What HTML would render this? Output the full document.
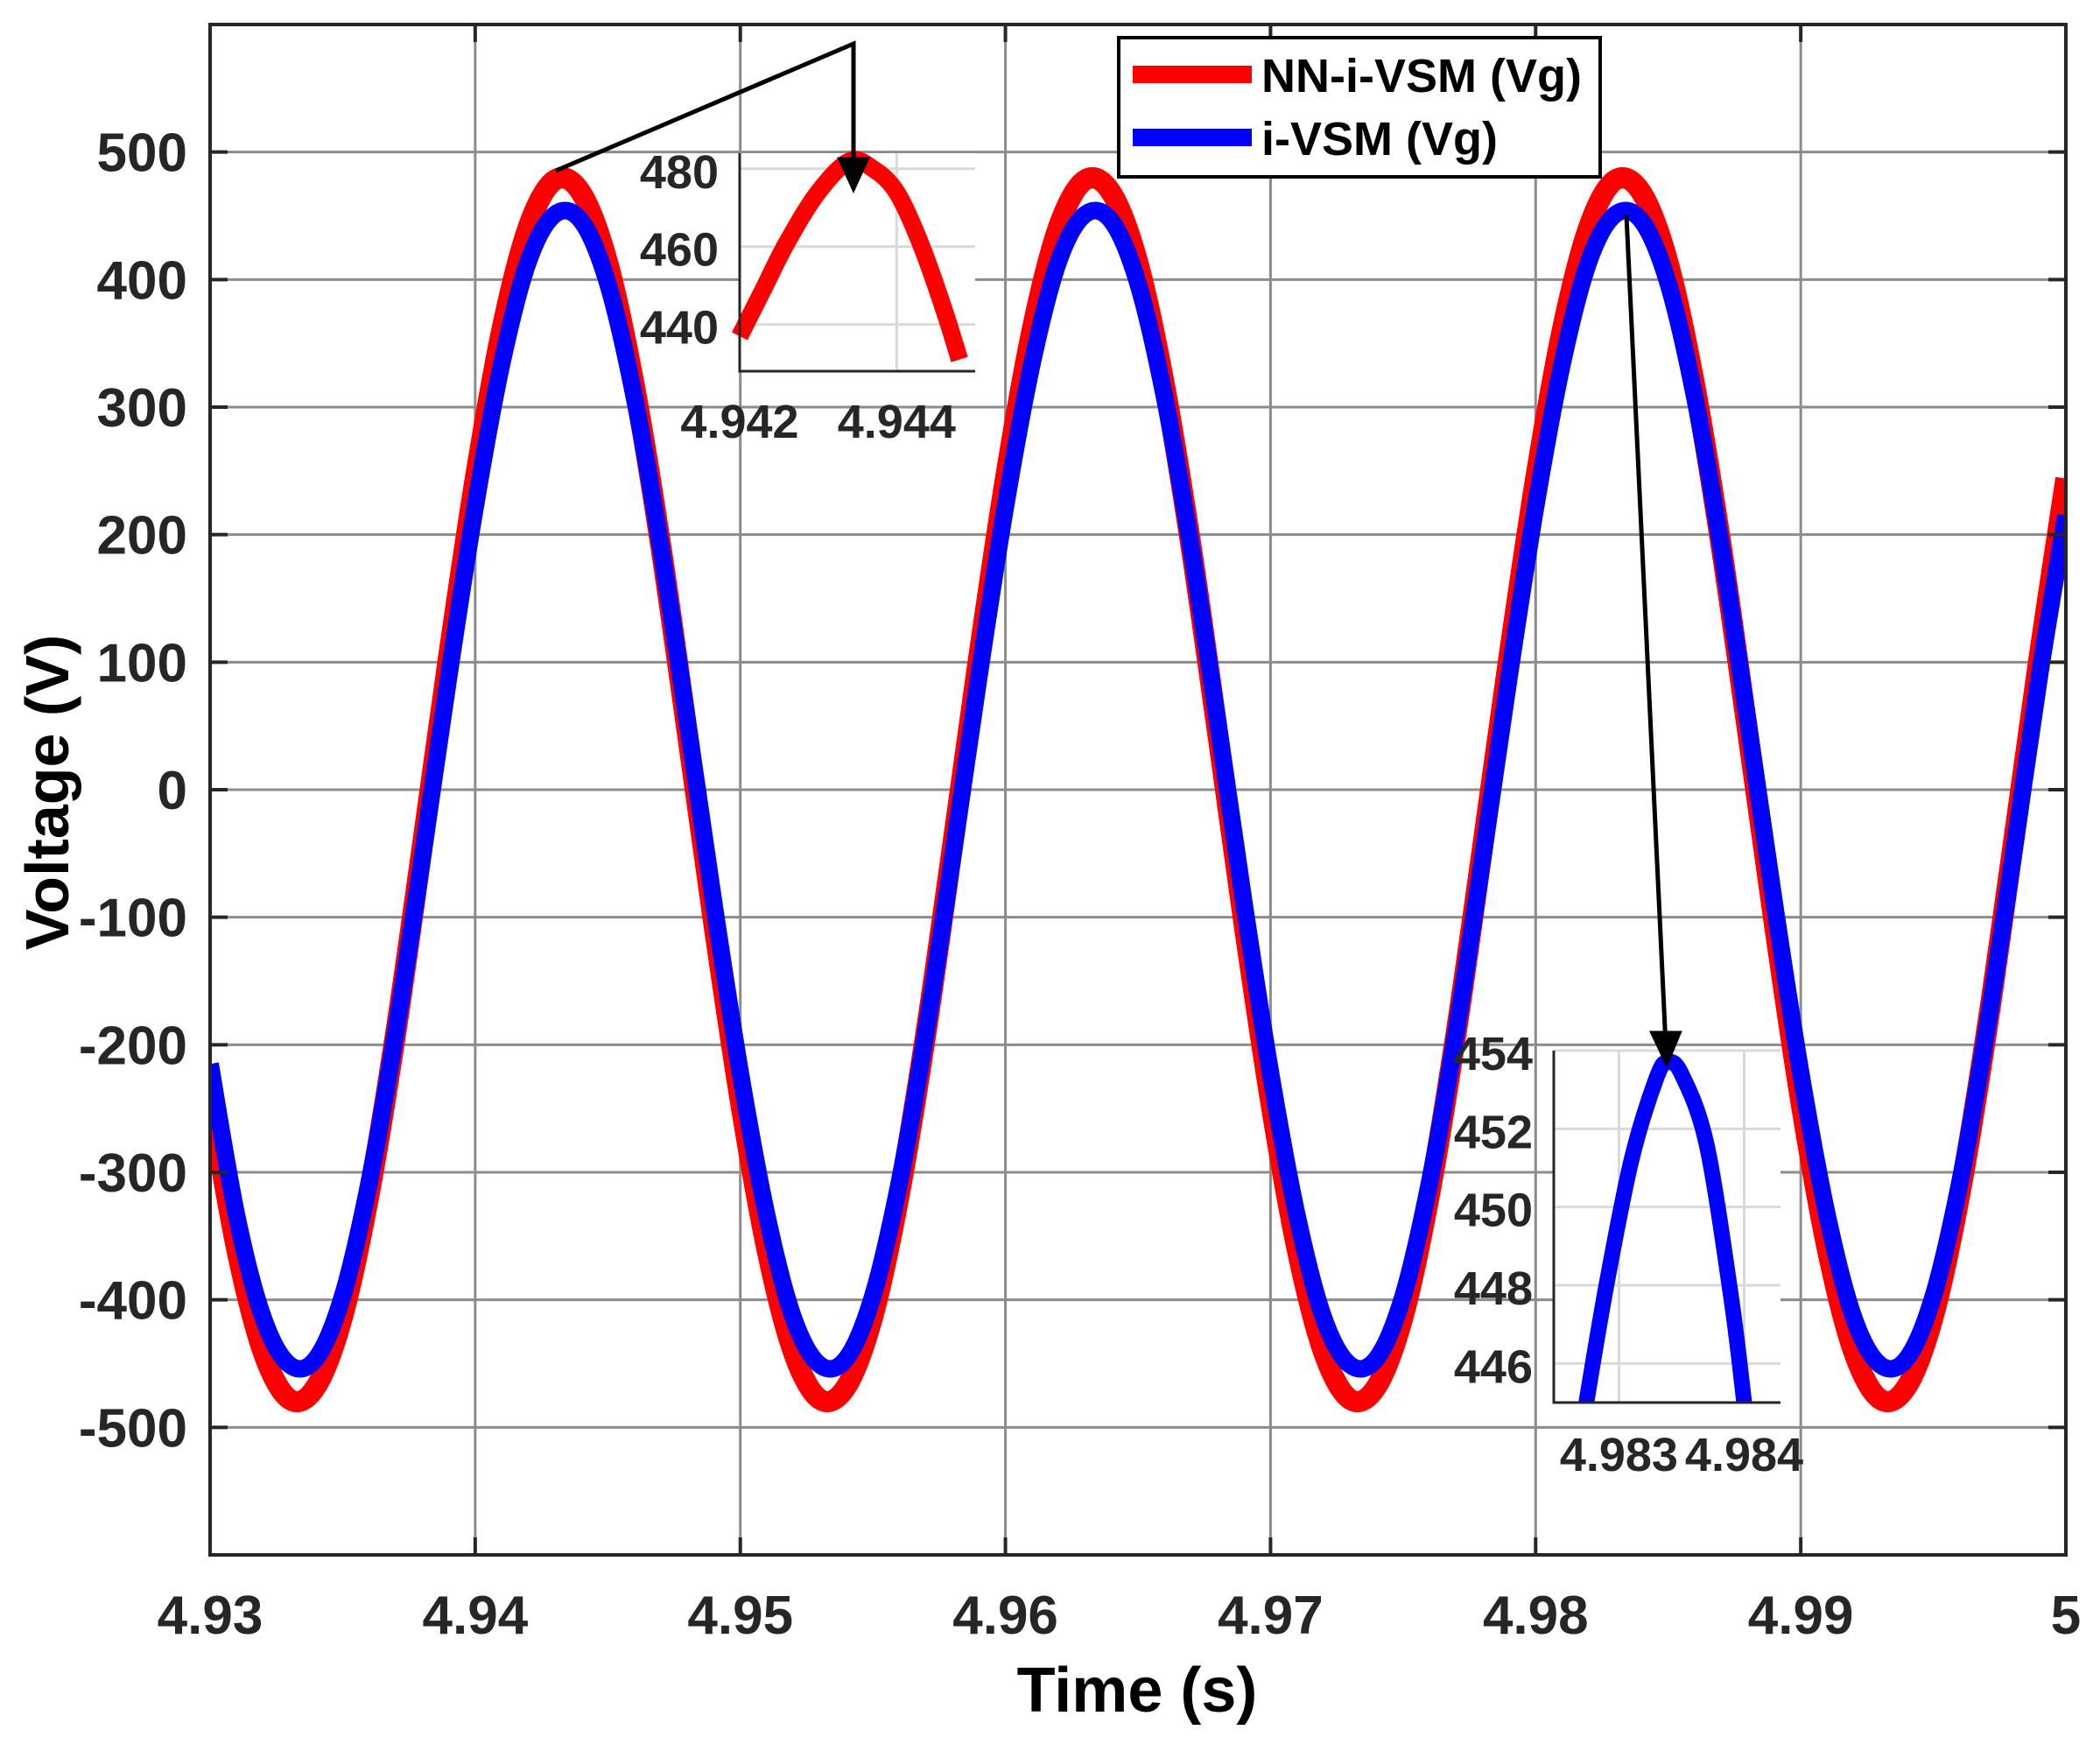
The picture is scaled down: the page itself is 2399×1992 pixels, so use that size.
<!DOCTYPE html>
<html><head><meta charset="utf-8"><style>
html,body{margin:0;padding:0;background:#fff;}
svg{display:block;font-family:"Liberation Sans",Arial,sans-serif;font-weight:bold;}
</style></head><body>
<svg id="chart" width="2399" height="1992" viewBox="0 0 2399 1992" xmlns="http://www.w3.org/2000/svg">
<g id="grid"></g>
<g id="series"></g>
<g id="axes"></g>
<g id="inset1"></g>
<g id="inset2"></g>
<g stroke="#000" stroke-width="5" fill="none">
  <polyline points="635,195 975,50 975,200"/>
  <polygon points="960,182 990,182 975,215" fill="#000"/>
  <line x1="1858" y1="246" x2="1903" y2="1195"/>
  <polygon points="1888,1180 1918,1180 1904,1214" fill="#000"/>
</g>
<g>
  <rect x="1278" y="43" width="550" height="159" fill="#fff" stroke="#000" stroke-width="4"/>
  <line x1="1294" y1="85" x2="1430" y2="85" stroke="#ff0000" stroke-width="20"/>
  <text x="1441" y="105" font-size="54" fill="#000">NN-i-VSM (Vg)</text>
  <line x1="1294" y1="157" x2="1430" y2="157" stroke="#0000ff" stroke-width="20"/>
  <text x="1441" y="177" font-size="54" fill="#000">i-VSM (Vg)</text>
</g>
<text x="1299" y="1955" font-size="72" text-anchor="middle" fill="#000">Time (s)</text>
<text transform="translate(78,905) rotate(-90)" font-size="70" text-anchor="middle" fill="#000">Voltage (V)</text>
</svg>
<script>
// main data
const timeStart = 4.930;
const timeStep = 0.001;
const redVals = [-244,-360,-441,-478,-468,-413,-317,-191,-45,105,244,360,441,478,468,413,317,191,45,-105,
 -244,-360,-441,-478,-468,-413,-317,-191,-45,105,244,360,441,478,468,413,317,191,45,-105,
 -244,-360,-441,-478,-468,-413,-317,-191,-45,105,244,360,441,478,468,413,317,191,45,-105,
 -244,-360,-441,-478,-468,-413,-317,-191,-45,105,244];
const blueVals = [-215,-334,-414,-451,-446,-397,-308,-190,-54,89,222,334,414,451,446,397,308,190,54,-89,
 -222,-334,-414,-451,-446,-397,-308,-190,-54,89,222,334,414,451,446,397,308,190,54,-89,
 -222,-334,-414,-451,-446,-397,-308,-190,-54,89,222,334,414,451,446,397,308,190,54,-89,
 -222,-334,-414,-451,-446,-397,-308,-190,-54,89,215];
const xTicks = [4.93,4.94,4.95,4.96,4.97,4.98,4.99,5.0];
const xTickLabels = ["4.93","4.94","4.95","4.96","4.97","4.98","4.99","5"];
const yTicks = [-500,-400,-300,-200,-100,0,100,200,300,400,500];
// inset 1 data
const in1T = [4.9420,4.9423,4.9426,4.9430,4.9434,4.9437,4.9440,4.9443,4.9446,4.9448];
const in1V = [437,449,461,474,482,480,474,461,444,431];
const in1XTicks = [4.942,4.944];
const in1XLabels = ["4.942","4.944"];
const in1YTicks = [440,460,480];
// inset 2 data
const in2T = [4.98274,4.9829,4.9831,4.9833,4.98339,4.9835,4.9837,4.9839,4.9840];
const in2V = [445,448,451.2,453.3,453.7,453.4,451.6,447.6,445];
const in2XTicks = [4.983,4.984];
const in2XLabels = ["4.983","4.984"];
const in2YTicks = [446,448,450,452,454];

const NS = "http://www.w3.org/2000/svg";
function mk(tag, attrs, parent){const e=document.createElementNS(NS,tag);for(const k in attrs)e.setAttribute(k,attrs[k]);parent.appendChild(e);return e;}

const L=240,R=2360,T=28,B=1776;
const xS=t=>L+(t-4.93)/0.07*(R-L);
const yS=v=>T+(600-v)/1200*(B-T);

function smoothPath(pts){
  let d="M"+pts[0][0].toFixed(1)+","+pts[0][1].toFixed(1);
  for(let i=0;i<pts.length-1;i++){
    const p0=pts[Math.max(i-1,0)],p1=pts[i],p2=pts[i+1],p3=pts[Math.min(i+2,pts.length-1)];
    const c1=[p1[0]+(p2[0]-p0[0])/6,p1[1]+(p2[1]-p0[1])/6];
    const c2=[p2[0]-(p3[0]-p1[0])/6,p2[1]-(p3[1]-p1[1])/6];
    d+=" C"+c1[0].toFixed(1)+","+c1[1].toFixed(1)+" "+c2[0].toFixed(1)+","+c2[1].toFixed(1)+" "+p2[0].toFixed(1)+","+p2[1].toFixed(1);
  }
  return d;
}

const grid=document.getElementById('grid');
xTicks.forEach((t,i)=>{
  const g=mk('line',{x1:xS(t),x2:xS(t),y1:T,y2:B,stroke:'#8c8c8c','stroke-width':3},grid);
  
  
});
yTicks.forEach(v=>{
  const g=mk('line',{x1:L,x2:R,y1:yS(v),y2:yS(v),stroke:'#8c8c8c','stroke-width':3},grid);
  
  
});

const series=document.getElementById('series');
const redPts=redVals.map((v,i)=>[xS(timeStart+i*timeStep),yS(v)]);
const bluePts=blueVals.map((v,i)=>[xS(timeStart+i*timeStep),yS(v)]);
const clip=mk('clipPath',{id:'plotclip'},series);
mk('rect',{x:L,y:T,width:R-L,height:B-T},clip);
const rp=mk('path',{d:smoothPath(redPts),fill:'none',stroke:'#ff0000','stroke-width':24,'clip-path':'url(#plotclip)'},series);


const bp=mk('path',{d:smoothPath(bluePts),fill:'none',stroke:'#0000ff','stroke-width':20,'clip-path':'url(#plotclip)'},series);



const axes=document.getElementById('axes');
const box=mk('rect',{x:L,y:T,width:R-L,height:B-T,fill:'none',stroke:'#262626','stroke-width':4},axes);


xTicks.forEach((t,i)=>{
  mk('line',{x1:xS(t),x2:xS(t),y1:B,y2:B-20,stroke:'#262626','stroke-width':4},axes);
  mk('line',{x1:xS(t),x2:xS(t),y1:T,y2:T+20,stroke:'#262626','stroke-width':4},axes);
  const tx=mk('text',{x:xS(t),y:1866,'font-size':62,'text-anchor':'middle',fill:'#262626'},axes);
  tx.textContent=xTickLabels[i];
  
  
});
yTicks.forEach(v=>{
  mk('line',{x1:L,x2:L+20,y1:yS(v),y2:yS(v),stroke:'#262626','stroke-width':4},axes);
  mk('line',{x1:R,x2:R-20,y1:yS(v),y2:yS(v),stroke:'#262626','stroke-width':4},axes);
  const tx=mk('text',{x:214,y:yS(v)+22,'font-size':62,'text-anchor':'end',fill:'#262626'},axes);
  tx.textContent=String(v);
  
  
});

function drawInset(gid,o,tArr,vArr,xt,xl,yt,color,lw,labelY,fs){
  const g=document.getElementById(gid);
  const xs=t=>o.l+(t-o.x0)/(o.x1-o.x0)*(o.r-o.l);
  const ys=v=>o.b-(v-o.y0)/(o.y1-o.y0)*(o.b-o.t);
  mk('rect',{x:o.l,y:o.t,width:o.r-o.l,height:o.b-o.t,fill:'#fff'},g);
  xt.forEach(t=>{const e=mk('line',{x1:xs(t),x2:xs(t),y1:o.t,y2:o.b,stroke:'#d9d9d9','stroke-width':3},g);
    
    });
  yt.forEach(v=>{const e=mk('line',{x1:o.l,x2:o.r,y1:ys(v),y2:ys(v),stroke:'#d9d9d9','stroke-width':3},g);
    
    });
  const cid=gid+'clip';
  const c=mk('clipPath',{id:cid},g);
  mk('rect',{x:o.l-12,y:o.t-10,width:o.r-o.l+20,height:o.b-o.t+10},c);
  const p=mk('path',{d:smoothPath(tArr.map((t,i)=>[xs(t),ys(vArr[i])])),fill:'none',stroke:color,'stroke-width':lw,'clip-path':'url(#'+cid+')'},g);
  
  
  mk('polyline',{points:`${o.l},${o.t} ${o.l},${o.b} ${o.r},${o.b}`,fill:'none',stroke:'#262626','stroke-width':3},g);
  xt.forEach((t,i)=>{const e=mk('text',{x:xs(t),y:labelY,'font-size':fs,'text-anchor':'middle',fill:'#262626'},g);
    e.textContent=xl[i];
    
    });
  yt.forEach(v=>{const e=mk('text',{x:o.l-24,y:ys(v)+22,'font-size':fs,'text-anchor':'end',fill:'#262626'},g);
    e.textContent=String(v);
    
    });
}
drawInset('inset1',{l:845,r:1114,t:175,b:424,x0:4.942,x1:4.9450,y0:428,y1:484},in1T,in1V,in1XTicks,in1XLabels,in1YTicks,'#ff0000',20,500,54);
drawInset('inset2',{l:1775,r:2034,t:1200,b:1602,x0:4.98248,x1:4.98429,y0:445,y1:454},in2T,in2V,in2XTicks,in2XLabels,in2YTicks,'#0000ff',18,1680,54);
</script>
</body></html>
